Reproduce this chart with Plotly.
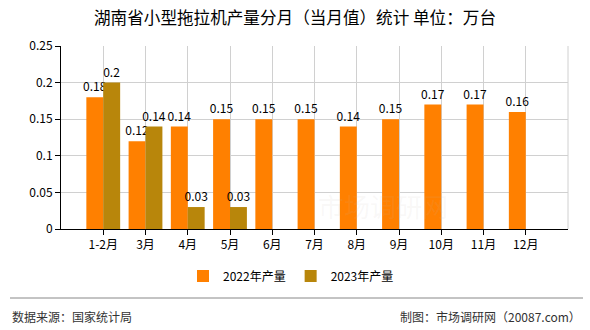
import plotly.graph_objects as go

categories = ["1-2月", "3月", "4月", "5月", "6月", "7月", "8月", "9月", "10月", "11月", "12月"]
values_2022 = [0.18, 0.12, 0.14, 0.15, 0.15, 0.15, 0.14, 0.15, 0.17, 0.17, 0.16]
values_2023 = [0.2, 0.14, 0.03, 0.03, None, None, None, None, None, None, None]
y_ticks = [0, 0.05, 0.1, 0.15, 0.2, 0.25]
y_tick_labels = ["0", "0.05", "0.1", "0.15", "0.2", "0.25"]

FONT = "Noto Sans CJK SC"
W, H = 590, 330
L, R, T, B = 61, 568, 46, 229
PW, PH = R - L, B - T

def px(x):
    return (x - L) / PW

def py(y):
    return (B - y) / PH

def fmt(v):
    return "" if v is None else ("%g" % v)

fig = go.Figure()
fig.add_trace(go.Bar(
    name="2022年产量", x=categories, y=values_2022,
    marker=dict(color="#FF8000", line=dict(width=0)),
    text=[fmt(v) for v in values_2022], textposition="outside",
    constraintext="none",
    textfont=dict(size=12, color="#000000", family=FONT),
    cliponaxis=False,
))
fig.add_trace(go.Bar(
    name="2023年产量", x=categories, y=values_2023,
    marker=dict(color="#B8860B", line=dict(width=0)),
    text=[fmt(v) for v in values_2023], textposition="outside",
    constraintext="none",
    textfont=dict(size=12, color="#000000", family=FONT),
    cliponaxis=False,
))

fig.update_layout(
    width=W, height=H,
    margin=dict(l=L, r=W - R, t=T, b=H - B, pad=0, autoexpand=False),
    paper_bgcolor="white", plot_bgcolor="white",
    font=dict(family=FONT, size=12, color="#000000"),
    barmode="group", bargap=0.2, bargroupgap=0,
    title=dict(text="湖南省小型拖拉机产量分月（当月值）统计 单位：万台",
               x=0.5, xanchor="center", y=1 - 18 / H, yanchor="middle",
               font=dict(size=16.6, family=FONT, color="#000000")),
    legend=dict(orientation="h", x=px(291), xanchor="center",
                yref="container", y=1 - 276 / H, yanchor="middle",
                font=dict(size=12, family=FONT), itemwidth=30,
                traceorder="normal"),
    xaxis=dict(type="category", range=[-1, 11], showgrid=True,
               gridcolor="#D0D0D0", gridwidth=1,
               showline=True, linecolor="#000000", linewidth=1,
               ticks="outside", ticklen=5, tickcolor="#000000",
               tickfont=dict(size=12, family=FONT)),
    yaxis=dict(range=[0, 0.25], tickvals=y_ticks, ticktext=y_tick_labels,
               showgrid=True, gridcolor="#D0D0D0", gridwidth=1,
               showline=True, linecolor="#000000", linewidth=1,
               ticks="outside", ticklen=5, tickcolor="#000000",
               zeroline=False, tickfont=dict(size=12, family=FONT)),
    shapes=[
        dict(type="line", xref="paper", yref="paper", x0=1, x1=1, y0=0, y1=1,
             line=dict(color="#D0D0D0", width=1)),
        dict(type="line", xref="paper", yref="paper", x0=px(10), x1=px(583),
             y0=py(298), y1=py(298), line=dict(color="#888888", width=1)),
    ],
    annotations=[
        dict(text="市场调研网", xref="paper", yref="paper",
             x=px(383), y=py(205), xanchor="center", yanchor="middle",
             showarrow=False, font=dict(size=26, family=FONT, color="rgba(200,190,180,0.1)")),
        dict(text="数据来源：国家统计局", xref="paper", yref="paper",
             x=px(10), y=py(316), xanchor="left", yanchor="middle",
             showarrow=False, font=dict(size=12, family=FONT, color="#333333")),
        dict(text="制图：市场调研网（20087.com）", xref="paper", yref="paper",
             x=px(583), y=py(316), xanchor="right", yanchor="middle",
             showarrow=False, font=dict(size=12, family=FONT, color="#333333")),
    ],
)

fig.write_html("out.html")
